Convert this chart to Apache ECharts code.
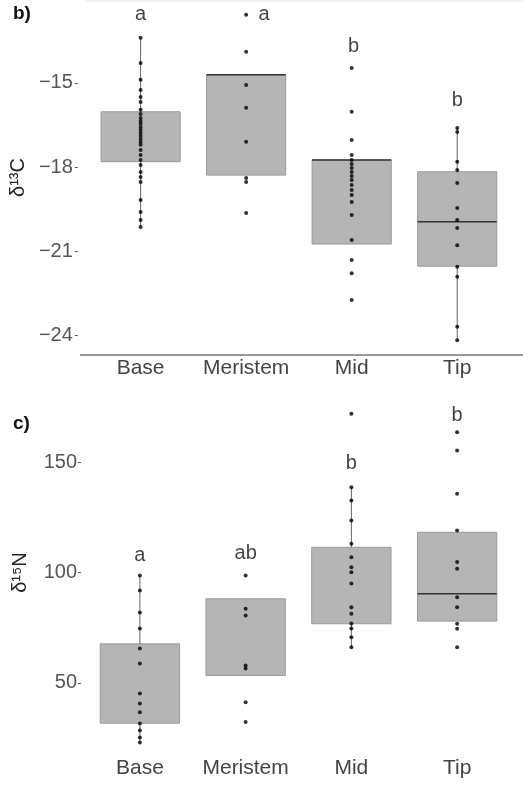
<!DOCTYPE html>
<html>
<head>
<meta charset="utf-8">
<script src="https://cdn.jsdelivr.net/npm/echarts@6/dist/echarts.min.js"></script>
<style>html,body{margin:0;padding:0;background:#fff}#c{width:523px;height:794px}</style>
</head>
<body>
<div id="c"></div>
<script>
const categories = ['Base', 'Meristem', 'Mid', 'Tip'];

// Panel b (δ13C)
const bBase = [-13.39,-14.29,-14.89,-15.25,-15.5,-15.68,-15.96,-16.11,-16.25,-16.36,-16.46,-16.57,-16.68,-16.79,-16.89,-17.0,-17.11,-17.21,-17.39,-17.57,-17.75,-17.93,-18.18,-18.36,-18.54,-19.18,-19.61,-19.89,-20.14];
const bMeristem = [-12.57,-13.89,-15.07,-15.89,-17.1,-18.39,-18.54,-19.64];
const bMid = [-14.47,-16.03,-17.04,-17.57,-17.75,-17.89,-18.04,-18.18,-18.32,-18.46,-18.64,-18.82,-19.0,-19.25,-19.71,-20.61,-21.32,-21.79,-22.75];
const bTip = [-16.61,-16.75,-17.81,-18.11,-18.57,-19.46,-19.89,-20.18,-20.79,-21.56,-21.92,-23.7,-24.18];
const bQ1 = [-17.81, -18.29, -20.75, -21.54];
const bQ3 = [-16.03, -14.71, -17.75, -18.17];
const bMedian = [null, -14.71, -17.75, -19.95];
const bWhiskerLow = [-20.14, null, null, -24.18];
const bWhiskerHigh = [-13.39, null, null, -16.61];
const bLetters = ['a', 'a', 'b', 'b'];
const bLetterY = [-12.57, -12.57, -13.71, -15.61];
const bTicks = [-24, -21, -18, -15];

// Panel c (δ15N)
const cBase = [98.6,91.9,81.9,74.7,65.6,58.8,45.2,40.7,36.7,31.7,28.5,25.3,23.1];
const cMeristem = [98.6,83.6,80.5,57.9,56.6,41.3,32.3];
const cMid = [171.8,138.6,132.6,123.5,113.0,106.9,102.4,100.1,95.0,84.3,81.3,76.9,74.7,70.7,66.2];
const cTip = [163.5,155.2,135.6,119.0,104.7,101.7,88.8,84.3,76.8,74.5,66.2];
const cQ1 = [31.8, 53.4, 76.8, 78.0];
const cQ3 = [67.7, 88.1, 111.4, 118.2];
const cMedian = [null, null, null, 90.4];
const cWhiskerLow = [23.1, null, 66.2, null];
const cWhiskerHigh = [98.6, null, 138.6, null];
const cLetters = ['a', 'ab', 'b', 'b'];
const cLetterY = [107.7, 108.6, 149.3, 171.0];
const cTicks = [50, 100, 150];

const FONT = 'Liberation Sans, Arial, sans-serif';

function pointData(groups) {
  const out = [];
  groups.forEach((g, i) => g.forEach(v => out.push([i, v])));
  return out;
}

function boxRenderer(q1s, q3s, meds, wlo, whi) {
  return function (params, api) {
    const i = params.dataIndex;
    const w = api.size([1, 0])[0] * 0.75;
    const p1 = api.coord([i, q1s[i]]);
    const p3 = api.coord([i, q3s[i]]);
    const cx = p1[0];
    const children = [];
    if (wlo[i] != null) {
      const pl = api.coord([i, wlo[i]]);
      children.push({type: 'line', shape: {x1: cx, y1: p1[1], x2: cx, y2: pl[1]},
        style: {stroke: '#666', lineWidth: 1}, z2: 2});
    }
    if (whi[i] != null) {
      const ph = api.coord([i, whi[i]]);
      children.push({type: 'line', shape: {x1: cx, y1: p3[1], x2: cx, y2: ph[1]},
        style: {stroke: '#666', lineWidth: 1}, z2: 2});
    }
    children.push({type: 'rect', shape: {x: cx - w / 2, y: p3[1], width: w, height: p1[1] - p3[1]},
      style: {fill: '#b5b5b5', stroke: '#9a9a9a', lineWidth: 1}, z2: 1});
    if (meds[i] != null) {
      const pm = api.coord([i, meds[i]]);
      children.push({type: 'line', shape: {x1: cx - w / 2, y1: pm[1], x2: cx + w / 2, y2: pm[1]},
        style: {stroke: '#333', lineWidth: 1.5}, z2: 3});
    }
    return {type: 'group', children};
  };
}

function letterData(letters, ys, offsets) {
  return ys.map((v, i) => ({
    value: [i, v],
    label: {formatter: letters[i], offset: [offsets[i] || 0, 0]}
  }));
}

const chart = echarts.init(document.getElementById('c'), null, {renderer: 'canvas'});

const yBase = {
  type: 'value',
  splitLine: {show: false},
  axisLine: {show: false},
  axisTick: {show: true, length: 3, lineStyle: {color: '#555'}},
  nameLocation: 'middle',
  nameTextStyle: {fontFamily: FONT, fontSize: 20, color: '#222'}
};

chart.setOption({
  animation: false,
  grid: [
    {left: 87, width: 423, top: 0, height: 355},
    {left: 87, width: 423, top: 390, height: 365}
  ],
  xAxis: [0, 1].map(g => ({
    type: 'category',
    gridIndex: g,
    data: categories,
    boundaryGap: true,
    axisLine: {show: false},
    axisTick: {show: false},
    axisLabel: {interval: 0, hideOverlap: false, fontFamily: FONT, fontSize: 21, color: '#444', margin: 3}
  })),
  yAxis: [
    Object.assign({}, yBase, {
      gridIndex: 0, min: -24.71, max: -12.04, offset: 10,
      name: 'δ¹³C', nameGap: 47,
      axisTick: Object.assign({}, yBase.axisTick, {customValues: bTicks}),
      axisLabel: {customValues: bTicks, margin: 5, fontFamily: FONT, fontSize: 20, color: '#555',
        formatter: v => String(v).replace('-', '−')}
    }),
    Object.assign({}, yBase, {
      gridIndex: 1, min: 17.4, max: 182.6, offset: 6,
      name: 'δ¹⁵N', nameGap: 51,
      axisTick: Object.assign({}, yBase.axisTick, {customValues: cTicks}),
      axisLabel: {customValues: cTicks, margin: 4, fontFamily: FONT, fontSize: 20, color: '#555'}
    })
  ],
  series: [
    {
      type: 'custom', xAxisIndex: 0, yAxisIndex: 0, z: 1,
      renderItem: boxRenderer(bQ1, bQ3, bMedian, bWhiskerLow, bWhiskerHigh),
      data: categories.map((c, i) => [i, bQ1[i], bQ3[i]])
    },
    {
      type: 'scatter', xAxisIndex: 0, yAxisIndex: 0, z: 3,
      symbol: 'circle', symbolSize: 4, itemStyle: {color: '#000'},
      data: pointData([bBase, bMeristem, bMid, bTip])
    },
    {
      type: 'scatter', xAxisIndex: 0, yAxisIndex: 0, z: 4, symbolSize: 0,
      label: {show: true, position: 'inside', fontFamily: FONT, fontSize: 20, color: '#111'},
      data: letterData(bLetters, bLetterY, [0, 18, 2, 0])
    },
    {
      type: 'custom', xAxisIndex: 1, yAxisIndex: 1, z: 1,
      renderItem: boxRenderer(cQ1, cQ3, cMedian, cWhiskerLow, cWhiskerHigh),
      data: categories.map((c, i) => [i, cQ1[i], cQ3[i]])
    },
    {
      type: 'scatter', xAxisIndex: 1, yAxisIndex: 1, z: 3,
      symbol: 'circle', symbolSize: 4, itemStyle: {color: '#000'},
      data: pointData([cBase, cMeristem, cMid, cTip])
    },
    {
      type: 'scatter', xAxisIndex: 1, yAxisIndex: 1, z: 4, symbolSize: 0,
      label: {show: true, position: 'inside', fontFamily: FONT, fontSize: 20, color: '#111'},
      data: letterData(cLetters, cLetterY, [0, 0, 0, 0])
    }
  ],
  graphic: [
    {type: 'line', shape: {x1: 85, y1: 1, x2: 523, y2: 1}, style: {stroke: '#e2e2e2', lineWidth: 1}, silent: true},
    {type: 'line', shape: {x1: 80, y1: 355, x2: 523, y2: 355}, style: {stroke: '#999', lineWidth: 2}, silent: true},
    {type: 'text', left: 13, top: 4, style: {text: 'b)', font: 'bold 19px ' + FONT, fill: '#111'}},
    {type: 'text', left: 13, top: 414, style: {text: 'c)', font: 'bold 19px ' + FONT, fill: '#111'}}
  ]
});
</script>
</body>
</html>
